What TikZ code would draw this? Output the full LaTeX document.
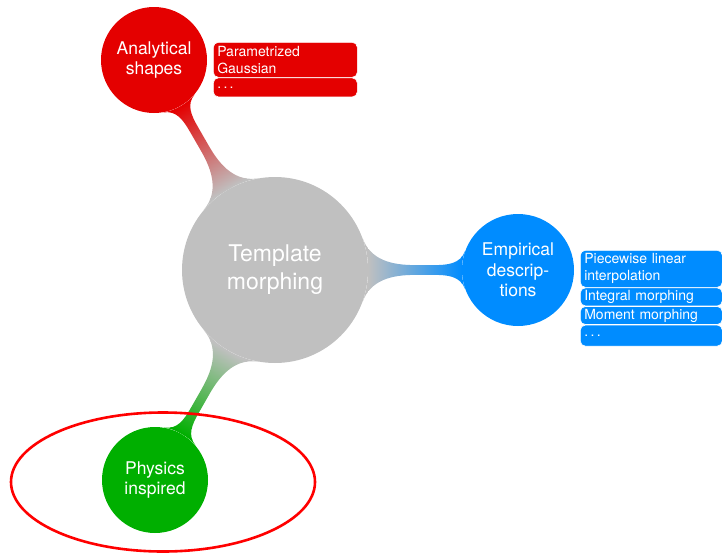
\documentclass[tikz,border=0pt]{standalone}
\usepackage{fontspec}
\setmainfont{TeX Gyre Heros}
\usetikzlibrary{mindmap,shapes.geometric}
\definecolor{cgray}{RGB}{192,192,192}
\definecolor{cred}{RGB}{228,0,0}
\definecolor{cblue}{RGB}{0,140,255}
\definecolor{cgreen}{RGB}{0,175,0}
\tikzset{
  conc/.style={circle, text=white, align=center, inner sep=0pt},
  sub/.style={conc, minimum size=106pt, font=\fontsize{17.5}{20.5}\selectfont},
  annot/.style={rounded corners=5pt, draw=white, line width=0.6pt, text=white,
    align=left, inner xsep=4pt, inner ysep=1pt, font=\fontsize{14}{17}\selectfont,
    minimum width=#1, text width=#1-8pt},
}
\begin{document}
\begin{tikzpicture}[x=1pt,y=-1pt]
\useasboundingbox (0,0) rectangle (722,554);
\node[conc, fill=cgray, minimum size=186pt, font=\fontsize{23}{28}\selectfont] (root) at (275,270) {Template\\morphing};
\node[sub, fill=cred] (ana) at (154,60) {Analytical\\shapes};
\node[sub, fill=cblue, minimum size=112pt] (emp) at (518,270) {Empirical\\descrip-\\tions};
\node[sub, fill=cgreen] (phy) at (155,480) {Physics\\inspired};

\path (root) to[circle connection bar switch color=from (cgray) to (cred)] (ana);
\path (root) to[circle connection bar switch color=from (cgray) to (cblue)] (emp);
\path (root) to[circle connection bar switch color=from (cgray) to (cgreen)] (phy);

\node[annot=144pt, fill=cred, anchor=north west, minimum height=35pt] (r1) at (213,42) {Parametrized\\Gaussian};
\node[annot=144pt, fill=cred, anchor=north, minimum height=19pt] (r2) at (r1.south) {.\,.\,.};

\node[annot=142pt, fill=cblue, anchor=north west, minimum height=37pt] (b1) at (580,250) {Piecewise linear\\interpolation};
\node[annot=142pt, fill=cblue, anchor=north, minimum height=18pt] (b2) at (b1.south) {Integral morphing};
\node[annot=142pt, fill=cblue, anchor=north, minimum height=18pt] (b3) at (b2.south) {Moment morphing};
\node[annot=142pt, fill=cblue, anchor=north, minimum height=21pt] (b4) at (b3.south) {.\,.\,.};

\node[ellipse, draw=red, line width=2.6pt, minimum width=304pt, minimum height=139pt] (hl) at (163,482) {};
\end{tikzpicture}
\end{document}
